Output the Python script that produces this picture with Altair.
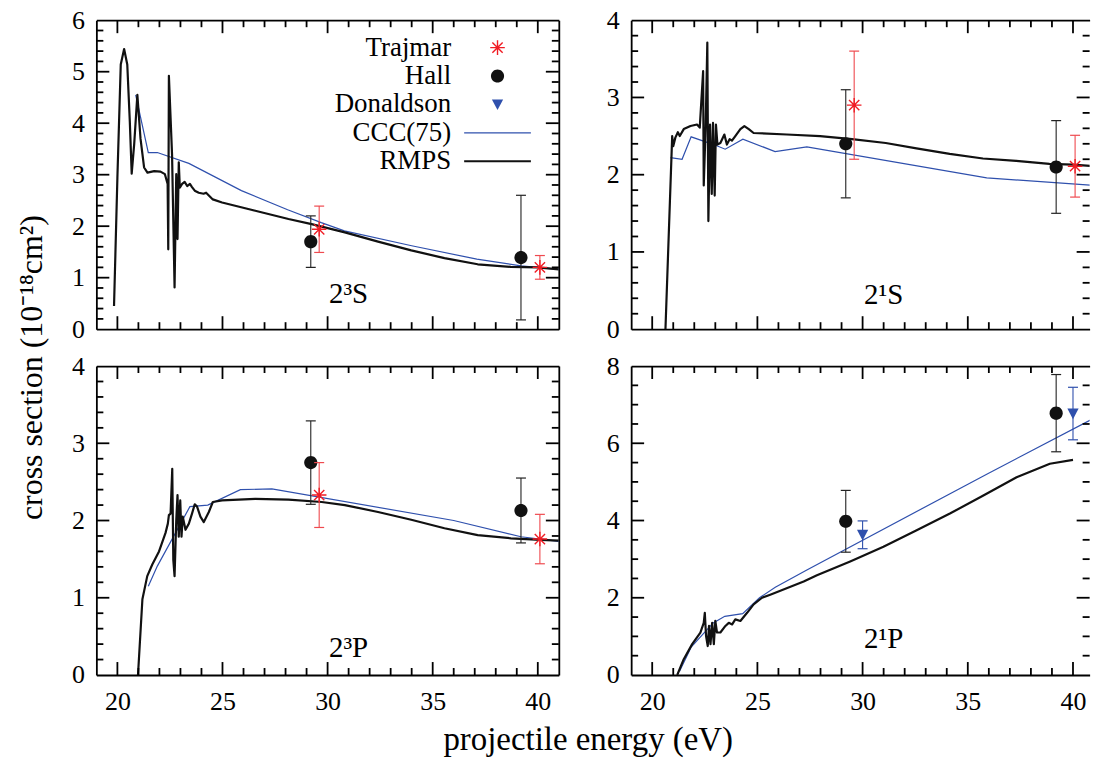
import altair as alt
import pandas as pd

FONT = "Liberation Serif"
BLACK = "#111111"
RED = "#f01c24"
RED_BAR = "#ef4a4f"
BLUE = "#2f50ad"

# ---------------- 2^3S ----------------
S3_RMPS_E = [19.84, 20.0, 20.16, 20.32, 20.47, 20.59, 20.68, 20.8, 20.95, 21.1, 21.27, 21.43,
             21.75, 22.05, 22.26, 22.39, 22.42, 22.45, 22.6, 22.72, 22.8, 22.86, 22.92, 22.97,
             23.08, 23.2, 23.32, 23.45, 23.55, 23.68, 23.87, 24.1, 24.22, 24.54, 24.98, 26.56,
             28.14, 29.24, 30.82, 32.4, 33.98, 35.56, 37.14, 38.72, 39.98, 41.0]
S3_RMPS_V = [0.45, 2.94, 5.14, 5.44, 5.14, 4.04, 3.02, 3.6, 4.55, 3.7, 3.14, 3.04,
             3.07, 3.06, 3.01, 2.82, 1.55, 4.92, 3.4, 0.81, 3.01, 1.75, 3.24, 2.75,
             2.82, 2.86, 2.78, 2.82, 2.76, 2.69, 2.65, 2.63, 2.65, 2.52, 2.46, 2.30,
             2.14, 2.04, 1.88, 1.70, 1.53, 1.38, 1.26, 1.21, 1.20, 1.16]
S3_CCC_E = [20.87, 21.47, 21.9, 23.4, 25.9, 28.1, 29.7, 30.8, 34.0, 37.1, 39.2, 41.0]
S3_CCC_V = [4.55, 3.43, 3.43, 3.22, 2.69, 2.32, 2.07, 1.91, 1.62, 1.36, 1.23, 1.16]
S3_HALL_E = [29.2, 39.2]
S3_HALL_V = [1.70, 1.39]
S3_HALL_ERR = [0.50, 1.21]
S3_TRAJ_E = [29.6, 40.1]
S3_TRAJ_V = [1.94, 1.20]
S3_TRAJ_ERR = [0.45, 0.23]

# ---------------- 2^1S ----------------
S1_RMPS_E = [20.63, 20.95, 21.0, 21.1, 21.22, 21.31, 21.5, 21.82, 22.13, 22.26, 22.42, 22.45,
             22.54, 22.62, 22.67, 22.75, 22.83, 22.89, 22.97, 23.03, 23.1, 23.24, 23.43, 23.55,
             23.68, 23.79, 23.95, 24.19, 24.38, 24.59, 24.82, 26.4, 27.98, 29.5, 31.1, 32.56,
             34.14, 35.72, 37.3, 38.88, 40.0, 41.0]
S1_RMPS_V = [0.0, 2.50, 2.37, 2.48, 2.55, 2.50, 2.59, 2.63, 2.65, 2.61, 3.34, 1.86,
             2.61, 3.71, 1.40, 2.65, 1.75, 2.67, 1.73, 2.65, 2.39, 2.41, 2.52, 2.39,
             2.46, 2.44, 2.50, 2.59, 2.63, 2.59, 2.54, 2.52, 2.50, 2.46, 2.41, 2.34,
             2.27, 2.21, 2.18, 2.14, 2.13, 2.11]
S1_CCC_E = [20.87, 21.42, 21.85, 22.92, 23.47, 24.31, 25.84, 27.35, 35.9, 41.0]
S1_CCC_V = [2.22, 2.20, 2.49, 2.39, 2.33, 2.46, 2.30, 2.36, 1.96, 1.86]
S1_HALL_E = [29.2, 39.2]
S1_HALL_V = [2.40, 2.10]
S1_HALL_ERR = [0.70, 0.60]
S1_TRAJ_E = [29.6, 40.1]
S1_TRAJ_V = [2.90, 2.11]
S1_TRAJ_ERR = [0.70, 0.40]

# ---------------- 2^3P ----------------
P3_RMPS_E = [20.98, 21.19, 21.42, 21.66, 21.98, 22.29, 22.4, 22.45, 22.53, 22.61, 22.66, 22.72,
             22.8, 22.86, 22.92, 22.99, 23.05, 23.11, 23.24, 23.4, 23.55, 23.68, 23.79, 23.95,
             24.11, 24.35, 24.54, 24.98, 26.56, 28.14, 29.72, 30.82, 32.4, 33.98, 35.56, 37.14,
             38.72, 40.14, 41.0]
P3_RMPS_V = [0.0, 0.98, 1.28, 1.43, 1.60, 1.84, 1.96, 2.07, 2.09, 2.67, 1.49, 1.28,
             2.0, 2.33, 1.79, 2.26, 1.79, 2.05, 1.88, 1.96, 2.09, 2.21, 2.18, 2.05,
             1.98, 2.11, 2.24, 2.26, 2.28, 2.27, 2.24, 2.20, 2.11, 2.01, 1.90, 1.81,
             1.77, 1.75, 1.74]
P3_CCC_E = [21.47, 21.9, 23.45, 24.3, 25.85, 27.35, 36.0, 39.2, 41.0]
P3_CCC_V = [1.15, 1.41, 2.18, 2.20, 2.40, 2.41, 2.00, 1.79, 1.73]
P3_HALL_E = [29.2, 39.2]
P3_HALL_V = [2.75, 2.13]
P3_HALL_ERR = [0.54, 0.42]
P3_TRAJ_E = [29.6, 40.1]
P3_TRAJ_V = [2.33, 1.76]
P3_TRAJ_ERR = [0.42, 0.32]

# ---------------- 2^1P ----------------
P1_RMPS_E = [21.19, 21.5, 21.9, 22.29, 22.45, 22.5, 22.56, 22.64, 22.7, 22.77, 22.85, 22.93,
             23.0, 23.08, 23.24, 23.48, 23.64, 23.8, 23.95, 24.19, 24.51, 24.82, 25.22, 25.61,
             27.2, 27.83, 29.41, 30.99, 32.57, 34.15, 35.74, 37.32, 38.9, 40.0]
P1_RMPS_V = [0.0, 0.41, 0.80, 1.10, 1.35, 1.61, 1.01, 0.75, 1.27, 0.80, 1.35, 0.80,
             1.40, 1.10, 1.10, 1.27, 1.35, 1.31, 1.44, 1.40, 1.61, 1.83, 2.0, 2.08,
             2.42, 2.58, 2.94, 3.32, 3.75, 4.18, 4.65, 5.12, 5.47, 5.57]
P1_CCC_E = [21.3, 21.85, 22.9, 23.45, 24.3, 25.1, 25.85, 27.35, 35.9, 41.0]
P1_CCC_V = [0.10, 0.72, 1.35, 1.52, 1.59, 2.00, 2.27, 2.72, 5.20, 6.65]
P1_HALL_E = [29.2, 39.2]
P1_HALL_V = [3.98, 6.78]
P1_HALL_ERR = [0.80, 1.00]
P1_DON_E = [30.0, 40.0]
P1_DON_V = [3.63, 6.77]
P1_DON_ERR = [0.36, 0.68]

LEGEND_NAMES = ["Trajmar", "Hall", "Donaldson", "CCC(75)", "RMPS"]

X_MAJOR = [20.0, 25.0, 30.0, 35.0, 40.0]
X_MINOR = [float(e) for e in range(20, 41) if e % 5]

# symbol glyphs as paths in units of sqrt(SYMBOL_SIZE)/2 = 12 px
SYMBOL_SIZE = 24 * 24
ASTERISK = ("M-0.61,0L0.61,0M0,-0.61L0,0.61"
            "M-0.43,-0.43L0.43,0.43M-0.43,0.43L0.43,-0.43")
DISC = "M0.55,0A0.55,0.55,0,1,1,-0.55,0A0.55,0.55,0,1,1,0.55,0Z"
TRIANGLE = "M-0.47,-0.42L0.47,-0.42L0,0.47Z"
THIN_BAR = "M-2.79,-0.05L2.79,-0.05L2.79,0.05L-2.79,0.05Z"
THICK_BAR = "M-2.79,-0.092L2.79,-0.092L2.79,0.092L-2.79,0.092Z"

W_LEFT, W_RIGHT, H = 464, 460, 310
X_MIN, X_MAX_LEFT, X_MAX_RIGHT = 19, 41, 40.79
MAJOR_LEN, MINOR_LEN = 13, 7   # tick lengths in pixels


def y_ticks(ymax, step, minor_step):
    n = int(round(ymax / minor_step))
    minor = [round(i * minor_step, 3) for i in range(1, n)
             if abs((i * minor_step) / step - round((i * minor_step) / step)) > 1e-6]
    major = [round(i * step, 3) for i in range(int(round(ymax / step)) + 1)]
    return major, minor


def points_df(E, V, err=None):
    df = pd.DataFrame({"E": E, "v": V})
    if err is not None:
        df["lo"] = [v - e for v, e in zip(V, err)]
        df["hi"] = [v + e for v, e in zip(V, err)]
    return df


def tick_frame(ticks, a, b):
    """One row per tick: its position along the axis and its two ends across it."""
    rows = [{"pos": float(t), "a": float(a), "b": float(b)} for t in ticks]
    return pd.DataFrame(rows, columns=["pos", "a", "b"])


def panel(name, label_v, ymax, step, minor_step, rmps, ccc, exps, width, xmax,
          bottom=False, y_title=None, x_title=None, legend=False, right_border=True):
    xs = alt.Scale(domain=[X_MIN, xmax], nice=False, zero=False)
    ys = alt.Scale(domain=[0, ymax], nice=False)

    def X(axis=None, field="E"):
        return alt.X(f"{field}:Q", scale=xs, axis=axis)

    def Y(axis=None, field="v"):
        return alt.Y(f"{field}:Q", scale=ys, axis=axis)

    layers = []
    layers.append(alt.Chart(points_df(*ccc)).mark_line(
        color=BLUE, strokeWidth=1.2, clip=True).encode(x=X(), y=Y()))
    layers.append(alt.Chart(points_df(*rmps)).mark_line(
        color=BLACK, strokeWidth=2.2, clip=True, strokeJoin="round").encode(x=X(), y=Y()))

    for kind, E, V, err in exps:
        df = points_df(E, V, err)
        if kind == "Trajmar":
            bar_color, mark = RED_BAR, dict(shape=ASTERISK, filled=False, color=RED, strokeWidth=1.4)
        elif kind == "Hall":
            bar_color, mark = "#222222", dict(shape=DISC, filled=True, color=BLACK)
        else:
            bar_color, mark = BLUE, dict(shape=TRIANGLE, filled=True, color=BLUE)
        layers.append(alt.Chart(df).mark_rule(color=bar_color, strokeWidth=1.1).encode(
            x=X(), y=Y(field="lo"), y2="hi:Q"))
        caps = pd.concat([df[["E", "lo"]].rename(columns={"lo": "cap"}),
                          df[["E", "hi"]].rename(columns={"hi": "cap"})])
        layers.append(alt.Chart(caps).mark_tick(
            orient="horizontal", size=10, thickness=1.2, color=bar_color, opacity=1).encode(
            x=X(), y=Y(field="cap")))
        layers.append(alt.Chart(df).mark_point(size=SYMBOL_SIZE, opacity=1, **mark).encode(
            x=X(), y=Y()))

    # inward ticks on all four sides (tick length converted from pixels to data units)
    major_y, minor_y = y_ticks(ymax, step, minor_step)
    inner_major_y = [v for v in major_y if 0 < v < ymax]
    per_px_y = ymax / H
    per_px_x = (xmax - X_MIN) / width
    for values, length in ((X_MAJOR, MAJOR_LEN), (X_MINOR, MINOR_LEN)):
        dy = length * per_px_y
        for a, b in ((0.0, dy), (ymax - dy, float(ymax))):
            layers.append(alt.Chart(tick_frame(values, a, b)).mark_rule(
                color="black", strokeWidth=1.8).encode(
                x=alt.X("pos:Q", scale=xs, axis=None),
                y=alt.Y("a:Q", scale=ys, axis=None), y2="b:Q"))
    for values, length in ((inner_major_y, MAJOR_LEN), (minor_y, MINOR_LEN)):
        dx = length * per_px_x
        for a, b in ((float(X_MIN), X_MIN + dx), (xmax - dx, float(xmax))):
            layers.append(alt.Chart(tick_frame(values, a, b)).mark_rule(
                color="black", strokeWidth=1.8).encode(
                y=alt.Y("pos:Q", scale=ys, axis=None),
                x=alt.X("a:Q", scale=xs, axis=None), x2="b:Q"))

    label = pd.DataFrame({"E": [31], "v": [label_v], "t": [name]})
    layers.append(alt.Chart(label).mark_text(
        font=FONT, fontSize=29, align="center", baseline="alphabetic", color="black").encode(
        x=X(), y=Y(), text="t:N"))

    if legend:
        # labels sit to the left of their symbols, gnuplot style
        leg = alt.Legend(orient="none", legendX=389, legendY=14, title=None, padding=0,
                         labelFont=FONT, labelFontSize=27, labelColor="black",
                         labelAlign="right", labelOffset={"expr": "-60"}, rowPadding=0.5,
                         symbolSize=SYMBOL_SIZE, symbolStrokeWidth=1.4, symbolOpacity=1,
                         symbolFillColor="transparent", symbolStrokeColor="transparent")
        key = pd.DataFrame({"E": [30] * 5, "v": [1] * 5, "series": LEGEND_NAMES})
        layers.append(alt.Chart(key).transform_filter("false").mark_point(opacity=1).encode(
            x=X(), y=Y(),
            fill=alt.Fill("series:N", legend=leg, scale=alt.Scale(
                domain=LEGEND_NAMES, range=["transparent", BLACK, BLUE, BLUE, BLACK])),
            stroke=alt.Stroke("series:N", legend=leg, scale=alt.Scale(
                domain=LEGEND_NAMES,
                range=[RED, "transparent", "transparent", "transparent", "transparent"])),
            shape=alt.Shape("series:N", legend=leg, scale=alt.Scale(
                domain=LEGEND_NAMES, range=[ASTERISK, DISC, TRIANGLE, THIN_BAR, THICK_BAR])),
        ))

    # frame and tick labels
    frame = pd.DataFrame({"E": [X_MIN, xmax], "v": [0, ymax]})
    base = dict(grid=False, labelFont=FONT, labelFontSize=26, labelColor="black",
                domainColor="black", domainWidth=1.8)

    if x_title:
        xtitle = dict(title=x_title, titleFont=FONT, titleFontSize=33, titleFontWeight="normal",
                      titleColor="black", titleX=493, titleY=75, titleAlign="center",
                      titleBaseline="alphabetic", titleAngle=0)
    else:
        xtitle = dict(title=None)
    if y_title:
        ytitle = dict(title=y_title, titleFont=FONT, titleFontSize=32, titleFontWeight="normal",
                      titleColor="black", titleX=-55, titleY=348, titleAlign="center",
                      titleBaseline="alphabetic", titleAngle=270)
    else:
        ytitle = dict(title=None)

    ax_bottom = alt.Axis(orient="bottom", values=X_MAJOR, ticks=False, labels=bottom,
                         labelPadding=14, format="d", **xtitle, **base)
    ax_left = alt.Axis(orient="left", values=major_y, ticks=False, labelPadding=12,
                       **ytitle, **base)
    ax_top = alt.Axis(orient="top", ticks=False, labels=False, title=None, **base)
    ax_right = alt.Axis(orient="right", ticks=False, labels=False, title=None, **base) \
        if right_border else None

    layers.append(alt.Chart(frame).mark_point(opacity=0).encode(x=X(ax_bottom), y=Y(ax_left)))
    layers.append(alt.Chart(frame).mark_point(opacity=0).encode(x=X(ax_top), y=Y(ax_right)))

    return alt.layer(*layers).resolve_axis(x="independent", y="independent").properties(
        width=width, height=H)


p_s3 = panel("2³S", 0.50, 6, 1, 0.2,
             (S3_RMPS_E, S3_RMPS_V), (S3_CCC_E, S3_CCC_V),
             [("Hall", S3_HALL_E, S3_HALL_V, S3_HALL_ERR),
              ("Trajmar", S3_TRAJ_E, S3_TRAJ_V, S3_TRAJ_ERR)],
             W_LEFT, X_MAX_LEFT, y_title="cross section (10⁻¹⁸cm²)", legend=True)
p_s1 = panel("2¹S", 0.33, 4, 1, 0.2,
             (S1_RMPS_E, S1_RMPS_V), (S1_CCC_E, S1_CCC_V),
             [("Hall", S1_HALL_E, S1_HALL_V, S1_HALL_ERR),
              ("Trajmar", S1_TRAJ_E, S1_TRAJ_V, S1_TRAJ_ERR)],
             W_RIGHT, X_MAX_RIGHT, right_border=False)
p_p3 = panel("2³P", 0.235, 4, 1, 0.2,
             (P3_RMPS_E, P3_RMPS_V), (P3_CCC_E, P3_CCC_V),
             [("Hall", P3_HALL_E, P3_HALL_V, P3_HALL_ERR),
              ("Trajmar", P3_TRAJ_E, P3_TRAJ_V, P3_TRAJ_ERR)],
             W_LEFT, X_MAX_LEFT, bottom=True, x_title="projectile energy (eV)")
p_p1 = panel("2¹P", 0.71, 8, 2, 0.5,
             (P1_RMPS_E, P1_RMPS_V), (P1_CCC_E, P1_CCC_V),
             [("Hall", P1_HALL_E, P1_HALL_V, P1_HALL_ERR),
              ("Donaldson", P1_DON_E, P1_DON_V, P1_DON_ERR)],
             W_RIGHT, X_MAX_RIGHT, bottom=True, right_border=False)

chart = alt.concat(p_s3, p_s1, p_p3, p_p1, columns=2,
                   spacing={"row": 37, "column": 72.6}, bounds="flush").properties(
    padding={"left": 15.7, "top": 6, "right": 0, "bottom": 0},
    background="white",
).configure_view(strokeWidth=0)

chart.save("out.html", embed_options={"renderer": "svg", "actions": False})
